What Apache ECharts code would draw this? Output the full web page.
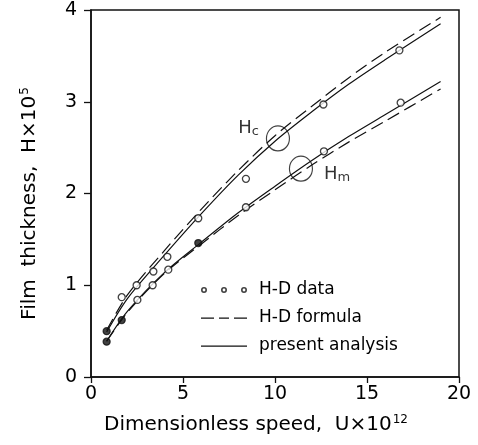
<!DOCTYPE html>
<html>
<head>
<meta charset="utf-8">
<script src="https://cdn.jsdelivr.net/npm/echarts@6/dist/echarts.min.js"></script>
<style>
html, body { margin: 0; padding: 0; background: #fff; }
#main { width: 478px; height: 445px; }
</style>
</head>
<body>
<div id="main"></div>
<script>
// 曲线取样点 (U x 10^12)
var curveU = [0.85, 2, 4, 6, 8, 10, 12, 14, 16, 19];
var hcPresent = [0.49, 0.86, 1.33, 1.78, 2.20, 2.57, 2.89, 3.19, 3.46, 3.85];
var hcFormula = [0.51, 0.90, 1.38, 1.83, 2.25, 2.63, 2.95, 3.26, 3.54, 3.92];
var hmPresent = [0.39, 0.72, 1.14, 1.47, 1.79, 2.08, 2.36, 2.62, 2.86, 3.22];
var hmFormula = [0.39, 0.71, 1.13, 1.45, 1.76, 2.04, 2.31, 2.56, 2.79, 3.14];

// H-D 实验点
var hdUc = [0.85, 1.67, 2.48, 3.39, 4.15, 5.83, 8.42, 12.63, 16.76];
var hdHc = [0.50, 0.87, 1.00, 1.15, 1.31, 1.73, 2.16, 2.97, 3.56];
var hdFilledC = [true, false, false, false, false, false, false, false, false];
var hdUm = [0.85, 1.67, 2.52, 3.35, 4.20, 5.83, 8.42, 12.66, 16.83];
var hdHm = [0.385, 0.62, 0.84, 1.00, 1.17, 1.46, 1.85, 2.46, 2.99];
var hdFilledM = [true, true, false, false, false, true, false, false, false];

// 标注椭圆 Hc / Hm
var annU = [10.16, 11.41];
var annH = [2.60, 2.27];
var annSub = ['c', 'm'];

var FONT = 'DejaVu Sans';
var INK = '#111';

function pairs(xs, ys) {
    return xs.map(function (x, i) { return [x, ys[i]]; });
}
function points(xs, ys, filled) {
    return xs.map(function (x, i) {
        return {
            value: [x, ys[i]],
            itemStyle: { color: filled[i] ? INK : '#fff' }
        };
    });
}

var lineBase = {
    type: 'line',
    smooth: 0.3,
    symbol: 'none',
    silent: true
};
function solid(data) {
    return Object.assign({}, lineBase, {
        name: 'present analysis',
        data: data,
        lineStyle: { color: INK, width: 1.2, type: 'solid' },
        itemStyle: { color: INK }
    });
}
function dashed(data) {
    return Object.assign({}, lineBase, {
        name: 'H-D formula',
        data: data,
        lineStyle: { color: INK, width: 1.2, type: [13, 6] },
        itemStyle: { color: INK }
    });
}
function hd(data) {
    return {
        type: 'scatter',
        name: 'H-D data',
        data: data,
        symbol: 'circle',
        symbolSize: 7,
        z: 5,
        itemStyle: { borderColor: INK, borderWidth: 1.3 }
    };
}

// 图例图标 (M0,0M46,16 撑开包围盒)
var ringIcon = 'path://M0,0M46,16' +
    'M0,8a3,3 0 1,0 6,0a3,3 0 1,0 -6,0z' +
    'M1.6,8a1.4,1.4 0 1,1 2.8,0a1.4,1.4 0 1,1 -2.8,0z' +
    'M20,8a3,3 0 1,0 6,0a3,3 0 1,0 -6,0z' +
    'M21.6,8a1.4,1.4 0 1,1 2.8,0a1.4,1.4 0 1,1 -2.8,0z' +
    'M40,8a3,3 0 1,0 6,0a3,3 0 1,0 -6,0z' +
    'M41.6,8a1.4,1.4 0 1,1 2.8,0a1.4,1.4 0 1,1 -2.8,0z';
var dashIcon = 'path://M0,0M46,16M0,7.4h13v1.3h-13zM18,7.4h10v1.3h-10zM33,7.4h13v1.3h-13z';
var solidIcon = 'path://M0,0M46,16M0,7.4h46v1.3h-46z';

var myChart = echarts.init(document.getElementById('main'));
var option = {
    animation: false,
    backgroundColor: '#fff',
    textStyle: { fontFamily: FONT, color: '#000' },
    grid: {
        left: 91, right: 19, top: 10, bottom: 68,
        show: true, borderColor: INK, borderWidth: 1.5
    },
    legend: {
        orient: 'vertical',
        left: 196, top: 276,
        itemWidth: 46, itemHeight: 18, itemGap: 10,
        textStyle: { fontFamily: FONT, fontSize: 17, color: '#000', lineHeight: 18, padding: [0, 0, 0, 7] },
        selectedMode: false,
        data: [
            { name: 'H-D data', icon: ringIcon, itemStyle: { color: INK, borderWidth: 0 } },
            { name: 'H-D formula', icon: dashIcon, itemStyle: { color: INK, borderWidth: 0 } },
            { name: 'present analysis', icon: solidIcon, itemStyle: { color: INK, borderWidth: 0 } }
        ]
    },
    xAxis: {
        type: 'value',
        min: 0, max: 20, interval: 5,
        name: '{t|Dimensionless speed,  U\u00d710}{s|12}',
        nameLocation: 'middle',
        nameGap: 37,
        nameTextStyle: {
            padding: [0, 38, 0, 0],
            rich: {
                t: { fontFamily: FONT, fontSize: 20, color: '#000' },
                s: { fontFamily: FONT, fontSize: 12, color: '#000', verticalAlign: 'top', padding: [0, 0, 10, 1] }
            }
        },
        axisLine: { lineStyle: { color: INK, width: 1.5 } },
        axisTick: { length: 6, lineStyle: { color: INK, width: 1.3 } },
        axisLabel: { fontFamily: FONT, fontSize: 19, color: '#000', margin: 8 },
        splitLine: { show: false }
    },
    yAxis: {
        type: 'value',
        min: 0, max: 4, interval: 1,
        name: '{t|Film  thickness,  H\u00d710}{s|5}',
        nameLocation: 'middle',
        nameGap: 50,
        nameTextStyle: {
            padding: [0, 20, 0, 0],
            rich: {
                t: { fontFamily: FONT, fontSize: 20, color: '#000' },
                s: { fontFamily: FONT, fontSize: 12, color: '#000', verticalAlign: 'top', padding: [0, 0, 10, 1] }
            }
        },
        axisLine: { lineStyle: { color: INK, width: 1.5 } },
        axisTick: { length: 7, lineStyle: { color: INK, width: 1.3 } },
        axisLabel: { fontFamily: FONT, fontSize: 19, color: '#000', margin: 14 },
        splitLine: { show: false }
    },
    series: [
        dashed(pairs(curveU, hcFormula)),
        solid(pairs(curveU, hcPresent)),
        dashed(pairs(curveU, hmFormula)),
        solid(pairs(curveU, hmPresent)),
        hd(points(hdUc, hdHc, hdFilledC)),
        hd(points(hdUm, hdHm, hdFilledM)),
        {
            type: 'scatter',
            name: 'ann',
            symbol: 'circle',
            symbolSize: [23, 25],
            silent: true,
            z: 6,
            itemStyle: { color: 'transparent', borderColor: INK, borderWidth: 1.2 },
            data: annU.map(function (u, i) {
                var left = i === 0;
                return {
                    value: [u, annH[i]],
                    label: {
                        show: true,
                        position: left ? 'left' : 'right',
                        distance: left ? 7 : 11,
                        offset: left ? [0, -10] : [0, 6],
                        formatter: '{h|H}{s|' + annSub[i] + '}',
                        rich: {
                            h: { fontFamily: FONT, fontSize: 18, color: '#000' },
                            s: { fontFamily: FONT, fontSize: 13, color: '#000', verticalAlign: 'bottom', padding: [6, 0, 0, 0] }
                        }
                    }
                };
            })
        }
    ]
};
myChart.setOption(option);
</script>
</body>
</html>
